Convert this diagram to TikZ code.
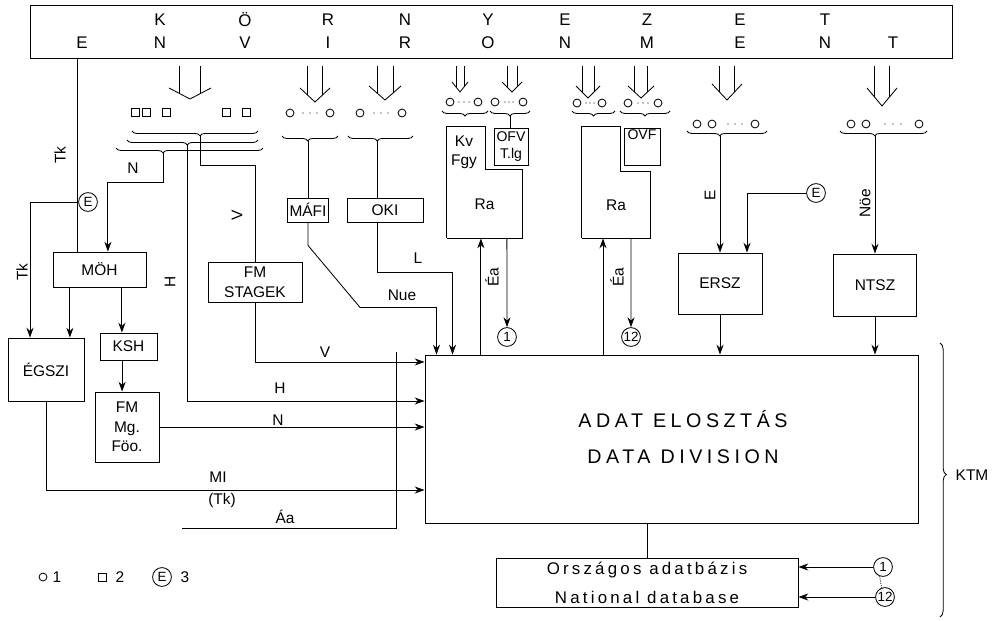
\documentclass[tikz,border=0pt]{standalone}
\usepackage{fontspec}
\setmainfont{Liberation Sans}
\newfontfamily\spacedA[LetterSpace=23]{Liberation Sans}
\newfontfamily\spacedB[LetterSpace=19]{Liberation Sans}
\usetikzlibrary{arrows.meta,decorations.pathreplacing,calc}

\tikzset{
  blk/.style={draw, rectangle, inner sep=0pt, align=center, font=\fontsize{11}{14}\selectfont},
  circ/.style={draw, circle, minimum size=0.47cm, inner sep=0pt, font=\fontsize{9.5}{10}\selectfont},
  lbl/.style={inner sep=1pt, font=\fontsize{11}{13}\selectfont},
  vlbl/.style={lbl, rotate=90},
  ltr/.style={inner sep=0pt, font=\fontsize{12}{14}\selectfont},
  arr/.style={-{Stealth[length=7pt,width=5pt]}},
  brc/.style={decorate, decoration={brace, mirror, amplitude=3.5pt, aspect=#1}},
  brc/.default=0.5
}

\begin{document}
\begin{tikzpicture}[x=0.025cm, y=-0.025cm, line width=0.6pt]
    \useasboundingbox (0,0) rectangle (1000,620);

    % Environment band
    \node[draw, minimum width=23.025cm, minimum height=1.325cm, inner sep=0pt] (env) at (491.5,31.5) {};
    \foreach \x/\t [count=\i] in {160/K,245/Ö,328/R,405/N,488/Y,565/E,647/Z,740/E,825/T}
        \node[ltr] (ta\i) at (\x,20) {\t};
    \foreach \x/\t [count=\i] in {82/E,160/N,245/V,328/I,405/R,488/O,565/N,647/M,740/E,825/N,893/T}
        \node[ltr] (tb\i) at (\x,43) {\t};

    % Inflow arrows
    \foreach \cx/\w/\d/\t in {190/21/11/99, 315/15/14/102, 385/16/14/100, 460/8/10/92, 512/10/10/92,
                              588/12/12/98, 641/13/12/98, 727/15/16/100, 882/15/18/106} {
        \draw (\cx-\w,\t-\d) -- (\cx,\t) -- (\cx+\w,\t-\d);
        \draw (\cx-0.5*\w,66) -- (\cx-0.5*\w,\t-0.5*\d);
        \draw (\cx+0.5*\w,66) -- (\cx+0.5*\w,\t-0.5*\d);
    }

    % Stations (squares and circles)
    \foreach \x in {135,146,166,226,246}
        \draw (\x-4,108) rectangle (\x+4,116);
    \foreach \x/\y in {290/113,330/113,360/113,402/113,450/102,478/102,495/102,523/102,
                       577/103,602/103,628/103,658/103,697/124,712/124,755/124,851/124,866/124,919/124}
        \draw (\x,\y) circle[radius=2.8pt];
    \foreach \x/\y in {303/113,310/113,317/113,374/113,381/113,388/113,459/102,464/102,469/102,
                       505/102,509/102,513/102,586/103,590/103,594/103,638/103,643/103,648/103,
                       728/124,735/124,742/124,885/124,893/124,901/124}
        \fill (\x,\y) circle[radius=0.5pt];

    % Braces
    \draw[brc=0.54] (132,131) -- (258,131);
    \draw[brc=0.46] (127,140) -- (258,140);
    \draw[brc=0.32] (116,148) -- (263,148);
    \draw[brc=0.46] (282,136) -- (338,136);
    \draw[brc=0.45] (348,136) -- (413,136);
    \draw[brc] (442,111) -- (488,111);
    \draw[brc] (490,111) -- (530,111);
    \draw[brc] (572,111) -- (615,111);
    \draw[brc] (620,111) -- (670,111);
    \draw[brc=0.41] (687,131) -- (767,131);
    \draw[brc=0.40] (840,131) -- (927,131);
    \coordinate (tb1) at (200,136);
    \coordinate (tb2) at (187,145);
    \coordinate (tb3) at (163,153);
    \coordinate (tbm) at (308,141);
    \coordinate (tbo) at (377,141);
    \coordinate (tbf) at (510,116);
    \coordinate (tbe) at (720,136);
    \coordinate (tbt) at (875,136);

    % Boxes
    \node[blk, minimum width=2.325cm, minimum height=0.875cm] (moh) at (99.5,269.5) {MÖH};
    \node[blk, minimum width=1.9cm, minimum height=1.575cm] (egszi) at (46,369.5) {ÉGSZI};
    \node[blk, minimum width=1.425cm, minimum height=0.675cm] (ksh) at (128.5,346.5) {KSH};
    \node[blk, minimum width=1.6cm, minimum height=1.75cm] (fmmg) at (127,427) {FM\\Mg.\\Föo.};
    \node[blk, minimum width=2.35cm, minimum height=1.0cm] (stagek) at (255,282) {FM\\STAGEK};
    \node[blk, minimum width=1.025cm, minimum height=0.6cm] (mafi) at (308,210) {MÁFI};
    \node[blk, minimum width=1.9cm, minimum height=0.6cm] (oki) at (385,210) {OKI};
    \node[blk, minimum width=0.85cm, minimum height=0.925cm, font=\fontsize{10}{12.5}\selectfont] (ofv) at (511,146.5) {OFV\\T.lg};
    \node[blk, minimum width=0.9cm, minimum height=0.925cm,
          label={[anchor=north, inner sep=1.5pt, font=\fontsize{10}{12}\selectfont]north:OVF}] (ovf) at (642,146.5) {};
    \node[blk, minimum width=2.1cm, minimum height=1.525cm] (ersz) at (720,283.5) {ERSZ};
    \node[blk, minimum width=2.075cm, minimum height=1.55cm] (ntsz) at (875,285) {NTSZ};

    % Ra blocks
    \node[lbl, minimum width=1.875cm, minimum height=1.7cm] (ra1) at (484.5,204) {Ra};
    \draw (ra1.south west) -- (ra1.south east) -- (ra1.north east) -- ++(-0.925cm,0cm) -- ++(0cm,1.075cm) -| (ra1.south west);
    \node[lbl, align=center, font=\fontsize{11}{13.5}\selectfont] (kv) at (464,152) {Kv\\Fgy};
    \node[lbl, minimum width=1.7cm, minimum height=1.65cm] (ra2) at (616,205) {Ra};
    \draw (ra2.south west) -- (ra2.south east) -- (ra2.north east) -- ++(-0.75cm,0cm) -- ++(0cm,1.125cm) -| (ra2.south west);

    % Data division and database
    \node[draw, minimum width=12.325cm, minimum height=4.2cm] (main) at (671.5,439) {};
    \node[align=center, font=\spacedA\fontsize{14}{25}\selectfont] (title) at (683,437) {ADAT ELOSZTÁS\\DATA DIVISION};
    \node[blk, minimum width=7.55cm, minimum height=1.225cm, font=\spacedB\fontsize{12}{20.5}\selectfont] (db) at (647,582.5) {Országos adatbázis\\National database};

    % Circled marks
    \node[circ] (e1) at (88,202) {E};
    \node[circ] (e2) at (816,193) {E};
    \node[circ] (c1) at (507,337) {1};
    \node[circ] (c12) at (631,337) {12};
    \node[circ] (cr1) at (883,567) {1};
    \node[circ] (cr12) at (885,597) {12};

    % Relationships
    \draw ([xshift=-0.54cm]moh.north) -- ([xshift=-0.54cm]moh.north |- env.south);
    \draw (tb1) -- ++(0cm,-0.725cm) -| (stagek.north);
    \draw[arr] (tb2) |- ([yshift=0.95cm]main.west);
    \draw[arr] (tb3) -- ++(0cm,-0.725cm) -| ([xshift=0.21cm]moh.north);
    \draw (tbm) -- (mafi.north);
    \draw (tbo) -- (tbo |- oki.north);
    \draw (tbf) -- (tbf |- ofv.north);
    \draw[arr] (tbe) -- (ersz.north);
    \draw[arr] (tbt) -- (ntsz.north);

    \draw[arr] (e1) -| ([xshift=-0.4cm]egszi.north);
    \draw[arr] ([xshift=-0.74cm]moh.south) -- ([xshift=-0.74cm]moh.south |- egszi.north);
    \draw[arr] ([xshift=0.56cm]moh.south) -- ([xshift=0.56cm]moh.south |- ksh.north);
    \draw[arr] ([xshift=-0.16cm]ksh.south) -- ([xshift=-0.16cm]ksh.south |- fmmg.north);

    \draw[arr] (stagek.south) |- ([yshift=1.925cm]main.west);
    \draw[arr] (fmmg.east) -- (fmmg.east -| main.west);
    \draw[arr] (egszi.south) |- ([yshift=-1.275cm]main.west);
    \coordinate (aa) at (182,528);
    \coordinate (bar) at (396,352);
    \draw (aa) -| (bar);

    \draw[arr] (mafi.south) -- ([yshift=-0.575cm]mafi.south) -- ([xshift=1.3cm,yshift=-2.125cm]mafi.south) -| ([xshift=0.3cm]main.north west);
    \draw[arr] ([xshift=-0.2cm]oki.south) -- ([xshift=-0.2cm,yshift=-1.25cm]oki.south) -| ([xshift=0.7cm]main.north west);

    \draw[arr] ([xshift=-0.09cm]ra1.south |- main.north) -- ([xshift=-0.09cm]ra1.south);
    \draw[arr] ([xshift=0.56cm]ra1.south) -- (c1);
    \draw[arr] ([xshift=-0.325cm]ra2.south |- main.north) -- ([xshift=-0.325cm]ra2.south);
    \draw[arr] ([xshift=0.375cm]ra2.south) -- (c12);

    \draw[arr] (e2) -| ([xshift=0.675cm]ersz.north);
    \draw[arr] (ersz.south) -- (ersz.south |- main.north);
    \draw[arr] (ntsz.south) -- (ntsz.south |- main.north);

    \draw (db.north |- main.south) -- (db.north);
    \draw[arr] (cr1) -- (cr1 -| db.east);
    \draw[arr] (cr12) -- (cr12 -| db.east);
    \draw[densely dotted] (cr1.250) -- (cr12.110);

    \draw[decorate, decoration={brace, amplitude=4.5pt, aspect=0.48}] (940,343) -- (940,617);
    \node[lbl] (ktm) at (972,475) {KTM};

    % Flow labels
    \node[vlbl] (ltk1) at (60,155) {Tk};
    \node[vlbl] (ltk2) at (22,272) {Tk};
    \node[vlbl] (lv1) at (237,215) {V};
    \node[vlbl] (lh1) at (170,282) {H};
    \node[vlbl] (le) at (710,195) {E};
    \node[vlbl] (lnoe) at (865,203) {Nöe};
    \node[vlbl] (lea1) at (492,277) {Éa};
    \node[vlbl] (lea2) at (617,277) {Éa};
    \node[lbl] (ln1) at (133,168) {N};
    \node[lbl] (lv2) at (325,352) {V};
    \node[lbl] (lh2) at (280,388) {H};
    \node[lbl] (ln2) at (278,420) {N};
    \node[lbl] (lmi) at (218,477) {MI};
    \node[lbl] (ltk3) at (222,500) {(Tk)};
    \node[lbl] (laa) at (285,517) {Áa};
    \node[lbl] (lnue) at (402,295) {Nue};
    \node[lbl] (ll) at (418,258) {L};

    % Legend
    \draw (43,577) circle[radius=2.8pt];
    \node[lbl] (key1) at (57,577) {1};
    \draw (98,573) rectangle (106,581);
    \node[lbl] (key2) at (120,577) {2};
    \node[circ] (keye) at (162,577) {E};
    \node[lbl] (key3) at (185,577) {3};

\end{tikzpicture}
\end{document}
